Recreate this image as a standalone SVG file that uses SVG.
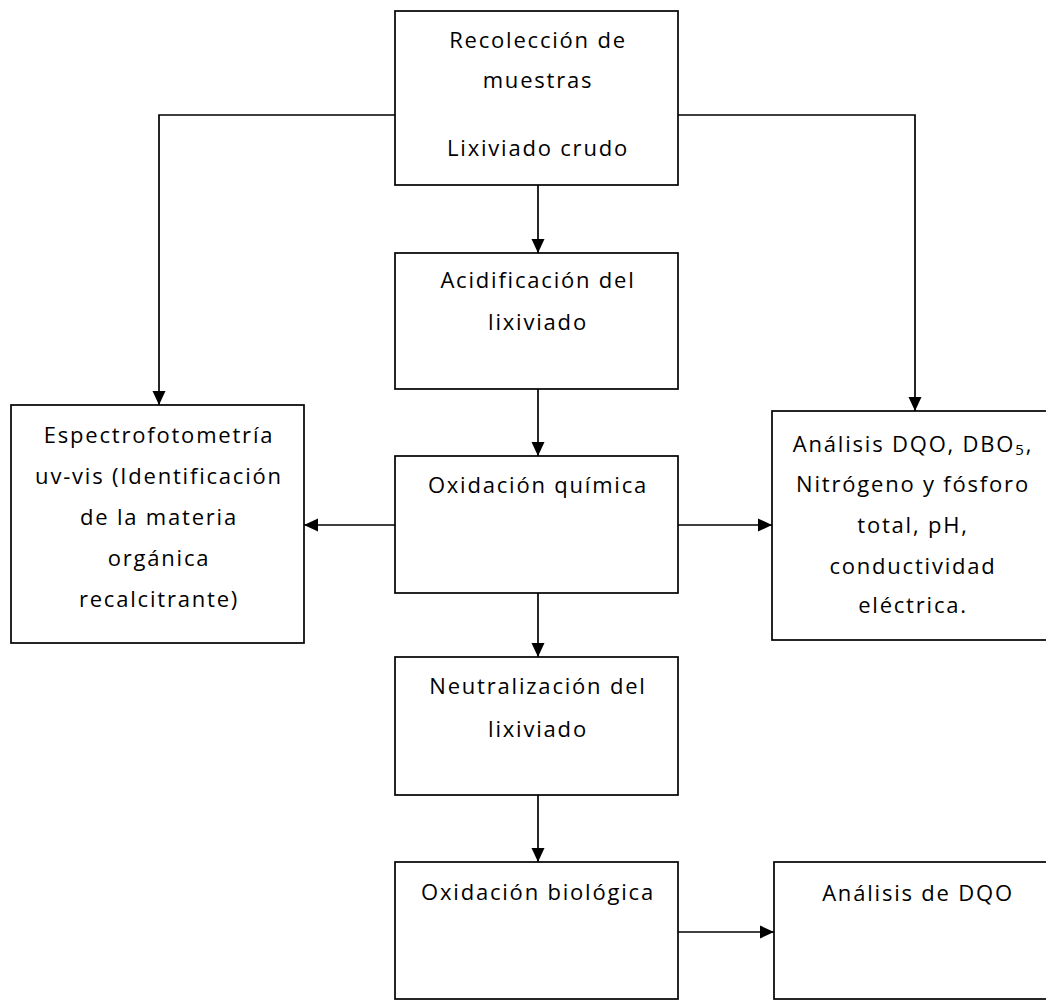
<svg xmlns="http://www.w3.org/2000/svg" width="1046" height="1001" viewBox="0 0 1046 1001">
<style>
.box{fill:#fff;stroke:#000;stroke-width:1.7}
.t{font-family:"Open Sans","Liberation Sans",sans-serif;font-size:22px;fill:#000;text-anchor:middle;letter-spacing:1.8px}
.c{fill:none;stroke:#000;stroke-width:1.7}
</style>
<defs>
<marker id="ah" markerUnits="userSpaceOnUse" markerWidth="15" markerHeight="15" refX="14" refY="7" orient="auto">
<path d="M0,0.5 L14,7 L0,13.5 z" fill="#000"/>
</marker>
</defs>
<rect width="1046" height="1001" fill="#fff"/>
<g id="connectors">
<path class="c" d="M538,185 V253" marker-end="url(#ah)"/>
<path class="c" d="M538,389 V456" marker-end="url(#ah)"/>
<path class="c" d="M538,593 V657" marker-end="url(#ah)"/>
<path class="c" d="M538,795 V862" marker-end="url(#ah)"/>
<path class="c" d="M678,932 H774" marker-end="url(#ah)"/>
<path class="c" d="M678,525 H772" marker-end="url(#ah)"/>
<path class="c" d="M395,525 H304" marker-end="url(#ah)"/>
<path class="c" d="M395,115 H159 V405" marker-end="url(#ah)"/>
<path class="c" d="M678,115 H915 V411" marker-end="url(#ah)"/>
</g>
<g id="n1">
<rect class="box" x="395" y="11" width="283" height="174"/>
<text class="t" x="538" y="48">Recolección de</text>
<text class="t" x="538" y="88">muestras</text>
<text class="t" x="538" y="156">Lixiviado crudo</text>
</g>
<g id="n2">
<rect class="box" x="395" y="253" width="283" height="136"/>
<text class="t" x="538" y="288">Acidificación del</text>
<text class="t" x="538" y="330">lixiviado</text>
</g>
<g id="n3">
<rect class="box" x="395" y="456" width="283" height="137"/>
<text class="t" x="538" y="493">Oxidación química</text>
</g>
<g id="n4">
<rect class="box" x="395" y="657" width="283" height="138"/>
<text class="t" x="538" y="694">Neutralización del</text>
<text class="t" x="538" y="737">lixiviado</text>
</g>
<g id="n5">
<rect class="box" x="395" y="862" width="283" height="137"/>
<text class="t" x="538" y="900">Oxidación biológica</text>
</g>
<g id="n6">
<rect class="box" x="774" y="862" width="283" height="137"/>
<text class="t" x="918" y="901">Análisis de DQO</text>
</g>
<g id="n7">
<rect class="box" x="11" y="405" width="293" height="238"/>
<text class="t" x="159" y="443">Espectrofotometría</text>
<text class="t" x="159" y="484">uv-vis (Identificación</text>
<text class="t" x="159" y="525">de la materia</text>
<text class="t" x="159" y="566">orgánica</text>
<text class="t" x="159" y="607">recalcitrante)</text>
</g>
<g id="n8">
<rect class="box" x="772" y="411" width="281" height="229"/>
<text class="t" x="913" y="452">Análisis DQO, DBO<tspan font-size="15" dy="3">5</tspan><tspan dy="-3">,</tspan></text>
<text class="t" x="913" y="492">Nitrógeno y fósforo</text>
<text class="t" x="913" y="533">total, pH,</text>
<text class="t" x="913" y="574">conductividad</text>
<text class="t" x="913" y="613">eléctrica.</text>
</g>
</svg>
